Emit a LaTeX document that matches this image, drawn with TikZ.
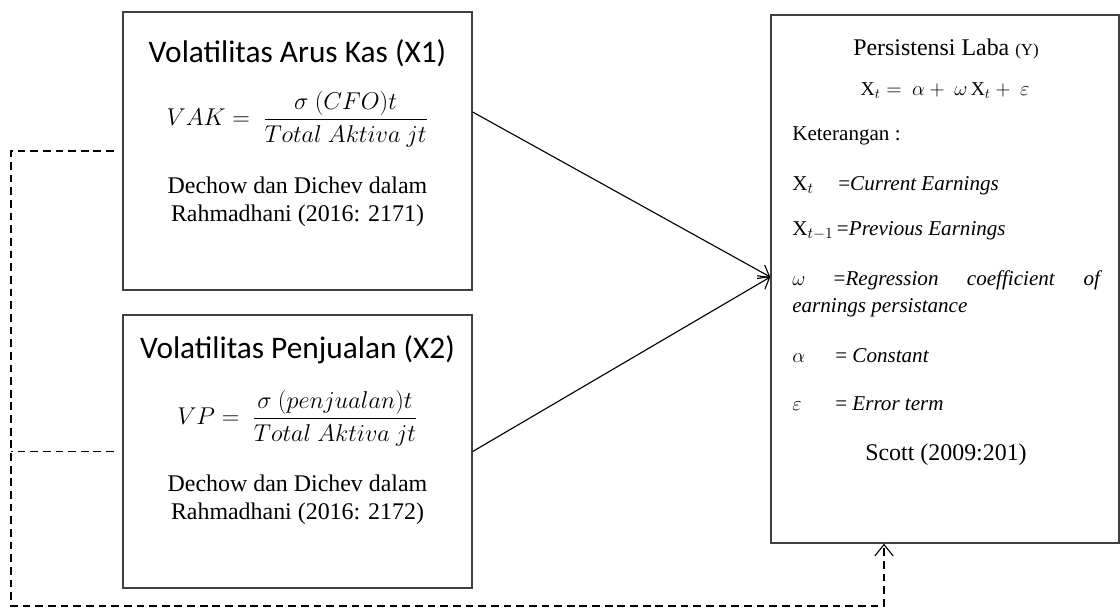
\documentclass[tikz,border=0pt]{standalone}
\usepackage{amsmath}
\usepackage{fontspec}
\setmainfont{LiberationSerif}[Extension=.ttf, UprightFont=*-Regular, ItalicFont=*-Italic, BoldFont=*-Bold, BoldItalicFont=*-BoldItalic]
\newfontfamily\calibri{Carlito}
\usepackage{tikz}
\usetikzlibrary{arrows.meta}

\begin{document}
\begin{tikzpicture}[x=0.025cm, y=-0.025cm,
    varbox/.style={draw=black!75, line width=0.9pt, inner sep=0pt},
    headtext/.style={anchor=base, font=\calibri\fontsize{22.3}{26}\selectfont},
    formula/.style={font=\fontsize{17.5}{20}\selectfont},
    reftext/.style={align=center, font=\fontsize{17}{20}\selectfont},
    keytext/.style={anchor=base west, inner xsep=0pt, font=\fontsize{15}{18}\selectfont},
    link/.style={line width=0.8pt, -{Straight Barb[length=7pt, width=11pt]}},
    feedback/.style={line width=0.8pt, dash pattern=on 5.5pt off 3.5pt}]
    \useasboundingbox (0,0) rectangle (1120,608);

    % Boxes
    \node[varbox, minimum width=8.725cm, minimum height=6.95cm] (vak) at (297.5,151) {};
    \node[varbox, minimum width=8.725cm, minimum height=6.825cm] (vp) at (297.5,451.5) {};
    \node[varbox, minimum width=8.7cm, minimum height=13.2cm] (laba) at (945,279) {};

    % Volatilitas Arus Kas
    \node[headtext] (vaktitle) at (297.5,62) {Volatilitas Arus Kas (X1)};
    \node[formula] (vakeq) at (297.5,119) {$VAK = \ \dfrac{\sigma\ (CFO)t}{Total\ Aktiva\ jt}$};
    \node[reftext] (vakref) at (297.5,202) {Dechow dan Dichev dalam\\Rahmadhani (2016: 2171)};

    % Volatilitas Penjualan
    \node[headtext] (vptitle) at (297.5,358) {Volatilitas Penjualan (X2)};
    \node[formula] (vpeq) at (297.5,418) {$VP = \ \dfrac{\sigma\ (penjualan)t}{Total\ Aktiva\ jt}$};
    \node[reftext] (vpref) at (297.5,500) {Dechow dan Dichev dalam\\Rahmadhani (2016: 2172)};

    % Persistensi Laba
    \node[anchor=base, font=\fontsize{17}{20}\selectfont] (labatitle) at (946,55) {Persistensi Laba {\fontsize{12}{14}\selectfont(Y)}};
    \node[anchor=base, font=\fontsize{14}{16}\selectfont] (labaeq) at (945,95) {$\mathrm{X}_t = \ \alpha + \ \omega\,\mathrm{X}_t + \ \varepsilon$};
    \node[keytext] (ket) at (792,140) {Keterangan :};
    \node[keytext] (kxt) at (792,190) {\makebox[1.15cm][l]{$\mathrm{X}_t$}=\textit{Current Earnings}};
    \node[keytext] (kxprev) at (792,235) {$\mathrm{X}_{t-1}$\,=\textit{Previous Earnings}};
    \node[keytext] (komega) at (792,285) {\makebox[7.75cm][s]{$\omega$\hfill=\textit{Regression}\hfill\textit{coefficient}\hfill\textit{of}}};
    \node[keytext] (kearn) at (792,312) {\textit{earnings persistance}};
    \node[keytext] (kalpha) at (792,362) {\makebox[1.075cm][l]{$\alpha$}= \textit{Constant}};
    \node[keytext] (keps) at (792,410) {\makebox[1.075cm][l]{$\varepsilon$}= \textit{Error term}};
    \node[anchor=base, font=\fontsize{17}{20}\selectfont] (scott) at (946,460) {Scott (2009:201)};

    % Arrows into Y
    \coordinate (meet) at (770,277);
    \coordinate (vakout) at (472,112);
    \draw[link] (vak.east |- vakout) -- (laba.west |- meet);
    \draw[link] (vp.east) -- (laba.west |- meet);

    % Dashed line
    \coordinate (dtl) at (11,151);
    \coordinate (dbl) at (11,606);
    \coordinate (dbr) at (884,606);
    \draw[feedback, shorten <=6pt, -{Straight Barb[length=8pt, width=13pt]}] (vak.west) -- (dtl) -- (dbl) -- (dbr) -- (dbr |- laba.south);
    \draw[feedback, shorten <=6pt] (vp.west) -- (vp.west -| dtl);
\end{tikzpicture}
\end{document}
